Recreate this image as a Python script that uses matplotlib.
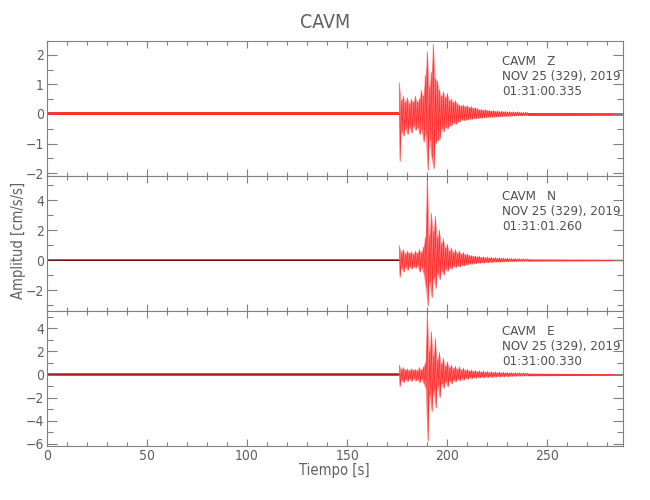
import numpy as np
import matplotlib
matplotlib.use("Agg")
import matplotlib.pyplot as plt
from matplotlib.ticker import MultipleLocator

plt.rcParams['font.family'] = ['DejaVu Sans']
plt.rcParams['font.stretch'] = 'condensed'
plt.rcParams['font.weight'] = 'light'

# seconds sampled through the strong-motion part (one hi/lo pair per second)
t_ev = np.arange(176, 241)

z_hi = [1.05, 0.45, 0.6, 0.4, 0.55, 0.35, 0.5, 0.4, 0.6, 0.4, 0.5, 0.8, 0.6, 1.3, 2.1, 0.9, 1.4, 2.35, 1.2, 1.1,
        0.8, 0.6, 0.75, 0.55, 0.7, 0.45, 0.5, 0.4, 0.45, 0.35, 0.3, 0.28, 0.3, 0.25, 0.28, 0.22, 0.25, 0.2, 0.22, 0.18,
        0.15, 0.16, 0.13, 0.15, 0.12, 0.13, 0.1, 0.12, 0.09, 0.11, 0.08, 0.1, 0.08, 0.09, 0.07, 0.08, 0.06, 0.08, 0.06,
        0.07, 0.06, 0.06, 0.05, 0.06, 0.05]
z_lo = [-1.6, -0.6, -0.75, -0.5, -0.7, -0.45, -0.65, -0.4, -0.55, -0.45, -0.7, -0.55, -0.95, -0.7, -1.9, -0.9, -1.5,
        -1.85, -1.0, -0.9, -0.85, -0.5, -0.6, -0.45, -0.5, -0.4, -0.38, -0.3, -0.35, -0.28, -0.25, -0.2, -0.22, -0.2,
        -0.2, -0.17, -0.18, -0.15, -0.16, -0.14, -0.13, -0.14, -0.12, -0.12, -0.11, -0.11, -0.1, -0.1, -0.09, -0.1,
        -0.08, -0.09, -0.07, -0.08, -0.07, -0.07, -0.06, -0.07, -0.05, -0.06, -0.05, -0.06, -0.05, -0.05, -0.04]

n_hi = [0.95, 0.5, 0.7, 0.4, 0.6, 0.45, 0.55, 0.4, 0.6, 0.45, 0.7, 0.5, 0.85, 1.5, 5.5, 1.6, 3.1, 1.9, 2.9, 1.5,
        2.0, 1.1, 1.4, 0.8, 1.05, 0.6, 0.8, 0.5, 0.7, 0.45, 0.6, 0.4, 0.5, 0.35, 0.4, 0.3, 0.3, 0.25, 0.28, 0.22,
        0.25, 0.18, 0.22, 0.16, 0.2, 0.15, 0.18, 0.13, 0.16, 0.12, 0.14, 0.11, 0.13, 0.1, 0.12, 0.09, 0.1, 0.08, 0.1,
        0.07, 0.09, 0.07, 0.08, 0.06, 0.07]
n_lo = [-1.15, -0.55, -0.8, -0.45, -0.7, -0.45, -0.6, -0.45, -0.55, -0.4, -0.8, -0.55, -0.9, -1.8, -3.05, -1.5,
        -2.5, -1.2, -1.9, -0.9, -1.3, -0.75, -1.0, -0.6, -0.75, -0.5, -0.6, -0.4, -0.5, -0.4, -0.45, -0.35, -0.4,
        -0.3, -0.3, -0.25, -0.28, -0.22, -0.25, -0.18, -0.22, -0.16, -0.2, -0.15, -0.18, -0.13, -0.16, -0.12, -0.14,
        -0.11, -0.13, -0.1, -0.12, -0.09, -0.11, -0.08, -0.1, -0.08, -0.09, -0.07, -0.08, -0.07, -0.08, -0.06, -0.07]

e_hi = [0.8, 0.45, 0.6, 0.4, 0.5, 0.35, 0.5, 0.4, 0.45, 0.35, 0.6, 0.4, 0.66, 1.0, 5.2, 2.0, 3.7, 1.6, 3.1, 1.2,
        1.9, 0.9, 1.4, 0.7, 1.1, 0.6, 0.8, 0.5, 0.7, 0.45, 0.66, 0.4, 0.55, 0.35, 0.45, 0.3, 0.4, 0.28, 0.35, 0.25,
        0.33, 0.22, 0.3, 0.2, 0.27, 0.18, 0.25, 0.17, 0.23, 0.16, 0.22, 0.15, 0.2, 0.14, 0.18, 0.13, 0.17, 0.12, 0.16,
        0.12, 0.15, 0.11, 0.14, 0.1, 0.12]
e_lo = [-1.06, -0.5, -0.7, -0.45, -0.6, -0.4, -0.6, -0.35, -0.55, -0.45, -0.7, -0.45, -0.78, -1.2, -5.8, -1.8,
        -3.2, -1.4, -2.9, -1.0, -2.0, -0.8, -1.2, -0.6, -1.06, -0.55, -0.8, -0.5, -0.63, -0.4, -0.55, -0.35, -0.5,
        -0.32, -0.42, -0.28, -0.35, -0.25, -0.33, -0.22, -0.3, -0.2, -0.28, -0.18, -0.26, -0.17, -0.24, -0.16, -0.22,
        -0.15, -0.2, -0.14, -0.19, -0.13, -0.18, -0.12, -0.16, -0.12, -0.15, -0.11, -0.14, -0.1, -0.13, -0.09, -0.11]

# background noise level before the event and in the coda tail
pre_t = [0, 176]
pre_noise = [0.05, 0.08, 0.1]
tail_t = [240, 260, 287.6]
tail_noise = [[0.05, 0.05, 0.045], [0.07, 0.06, 0.05], [0.11, 0.09, 0.08]]

comps = ['Z', 'N', 'E']
times = ['01:31:00.335', '01:31:01.260', '01:31:00.330']
date_str = 'NOV 25 (329), 2019'
station = 'CAVM'
ylims = [(-2.1, 2.47), (-3.4, 5.6), (-6.2, 5.5)]
ymajor = [1, 2, 2]
yminor = [0.5, 1, 1]
xmax = 287.6

gray = '#808080'
red = '#ff2020'
pre_line = ['#ff2020', '#400000', '#a01010']

fig, axes = plt.subplots(3, 1, figsize=(6.5, 5), dpi=100, sharex=True)
fig.subplots_adjust(left=0.072, right=0.958, top=0.918, bottom=0.108, hspace=0)

his = [z_hi, n_hi, e_hi]
los = [z_lo, n_lo, e_lo]

for i, ax in enumerate(axes):
    hi = np.array(his[i])
    lo = np.array(los[i])
    # zigzag between the upper and lower extent of each second
    x = np.empty(2 * len(t_ev))
    y = np.empty(2 * len(t_ev))
    x[0::2] = t_ev
    x[1::2] = t_ev + 0.5
    y[0::2] = hi
    y[1::2] = lo

    pn = pre_noise[i]
    ax.fill_between(pre_t, [-pn, -pn], [pn, pn], color=red, lw=0, alpha=0.9)
    tn = np.array(tail_noise[i])
    ax.fill_between(tail_t, -tn, tn, color=red, lw=0, alpha=0.9)
    ax.plot(pre_t, [0, 0], color=pre_line[i], lw=0.5)
    # dense body of the trace, then the oscillation on top
    ax.fill_between(t_ev, lo, hi, color=red, lw=0, alpha=0.5)
    ax.plot(x, y, color=red, lw=0.5, alpha=0.9)

    ax.set_xlim(0, xmax)
    ax.set_ylim(*ylims[i])
    ax.xaxis.set_major_locator(MultipleLocator(50))
    ax.xaxis.set_minor_locator(MultipleLocator(10))
    ax.yaxis.set_major_locator(MultipleLocator(ymajor[i]))
    ax.yaxis.set_minor_locator(MultipleLocator(yminor[i]))
    ax.tick_params(which='both', direction='in', top=True, right=True, colors=gray,
                   labelcolor='#606060', labelsize=10, width=0.8, pad=2)
    ax.tick_params(axis='y', which='major', length=7)
    ax.tick_params(axis='y', which='minor', length=4)
    ax.tick_params(axis='x', which='major', length=5)
    ax.tick_params(axis='x', which='minor', length=3)
    for s in ax.spines.values():
        s.set_color(gray)
        s.set_linewidth(0.8)

    ax.text(0.79, 0.895, station + '   ' + comps[i] + '\n' + date_str + '\n' + times[i],
            transform=ax.transAxes, ha='left', va='top', fontsize=9.5, color='#505050',
            linespacing=1.2)

fig.text(0.515, 0.06, 'Tiempo [s]', color='#606060', fontsize=10.5, ha='center', va='center')
fig.text(0.029, 0.52, 'Amplitud [cm/s/s]', color='#606060', fontsize=10.5, ha='center', va='center',
         rotation=90)
fig.suptitle(station, y=0.975, color='#606060', fontsize=14)

fig.savefig('out.png', dpi=100)
